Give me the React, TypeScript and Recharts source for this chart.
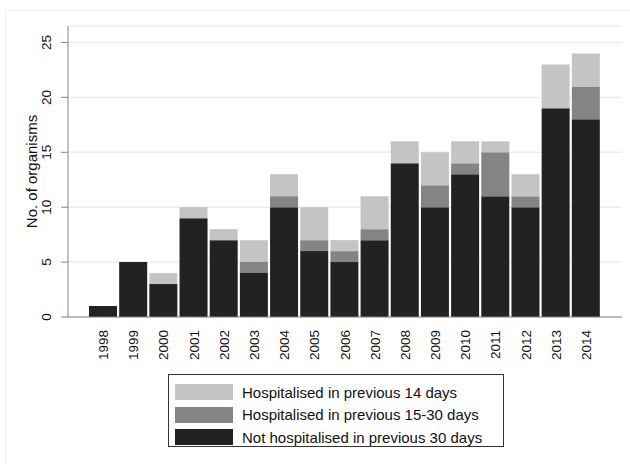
import { BarChart, Bar, XAxis, YAxis, CartesianGrid } from "recharts";

const YEARS = ["1998", "1999", "2000", "2001", "2002", "2003", "2004", "2005", "2006", "2007", "2008", "2009", "2010", "2011", "2012", "2013", "2014"];
const NOT_HOSP_30 = [1, 5, 3, 9, 7, 4, 10, 6, 5, 7, 14, 10, 13, 11, 10, 19, 18];
const HOSP_15_30 = [0, 0, 0, 0, 0, 1, 1, 1, 1, 1, 0, 2, 1, 4, 1, 0, 3];
const HOSP_14 = [0, 0, 1, 1, 1, 2, 2, 3, 1, 3, 2, 3, 2, 1, 2, 4, 3];
const Y_TICKS = [0, 5, 10, 15, 20, 25];

const SERIES = [
  { key: "hosp14", label: "Hospitalised in previous 14 days", color: "#c4c3c6" },
  { key: "hosp1530", label: "Hospitalised in previous 15-30 days", color: "#858386" },
  { key: "notHosp", label: "Not hospitalised in previous 30 days", color: "#222222" },
];

const data = YEARS.map((year, i) => ({
  year,
  notHosp: NOT_HOSP_30[i],
  hosp1530: HOSP_15_30[i],
  hosp14: HOSP_14[i],
}));

const FONT = "'Liberation Sans', Arial, sans-serif";
const AXIS_COLOR = "#858585";

function YearTick({ x, y, payload }: any) {
  return (
    <text
      transform={`translate(${x + 5},${y + 5}) rotate(-90)`}
      textAnchor="end"
      fontSize={13.5}
      fontFamily={FONT}
      fill="#111"
    >
      {payload.value}
    </text>
  );
}

function CountTick({ x, y, payload }: any) {
  return (
    <text
      transform={`translate(${x - 8},${y}) rotate(-90)`}
      textAnchor="middle"
      fontSize={13.5}
      fontFamily={FONT}
      fill="#111"
    >
      {payload.value}
    </text>
  );
}

export default function App() {
  return (
    <div style={{ position: "absolute", left: 0, top: 0, width: 630, height: 464, background: "#fff", fontFamily: FONT }}>
      <div
        style={{
          position: "absolute",
          left: 5,
          top: 10,
          right: 0,
          bottom: 0,
          borderTop: "1px solid #eceef2",
          borderLeft: "1px solid #eceef2",
        }}
      />
      <BarChart
        width={630}
        height={464}
        data={data}
        margin={{ top: 26, right: 8, bottom: 107, left: 0 }}
        barCategoryGap={1}
      >
        <CartesianGrid vertical={false} stroke="#e9eff3" strokeWidth={1.5} />
        <XAxis
          dataKey="year"
          height={40}
          tick={<YearTick />}
          tickLine={false}
          axisLine={{ stroke: AXIS_COLOR }}
          padding={{ left: 20, right: 21 }}
          interval={0}
        />
        <YAxis
          width={68}
          domain={[0, 26.5]}
          ticks={Y_TICKS}
          tick={<CountTick />}
          tickSize={7}
          tickLine={{ stroke: AXIS_COLOR }}
          axisLine={{ stroke: AXIS_COLOR }}
          label={{
            value: "No. of organisms",
            angle: -90,
            position: "insideLeft",
            dx: 27,
            style: { fontSize: 15, fontFamily: FONT, fill: "#111", textAnchor: "middle" },
          }}
        />
        <Bar dataKey="notHosp" stackId="a" fill="#222222" isAnimationActive={false} />
        <Bar dataKey="hosp1530" stackId="a" fill="#858386" isAnimationActive={false} />
        <Bar dataKey="hosp14" stackId="a" fill="#c4c3c6" isAnimationActive={false} />
      </BarChart>
      <div
        style={{
          position: "absolute",
          left: 168,
          top: 374,
          width: 336,
          height: 73,
          border: "1px solid #333",
          boxSizing: "border-box",
          padding: "6px 0 0 6px",
        }}
      >
        {SERIES.map((s) => (
          <div key={s.key} style={{ display: "flex", alignItems: "center", height: 22.5 }}>
            <div style={{ width: 58, height: 16, background: s.color, marginRight: 9 }} />
            <span style={{ fontSize: 15, color: "#111", whiteSpace: "nowrap" }}>{s.label}</span>
          </div>
        ))}
      </div>
    </div>
  );
}
